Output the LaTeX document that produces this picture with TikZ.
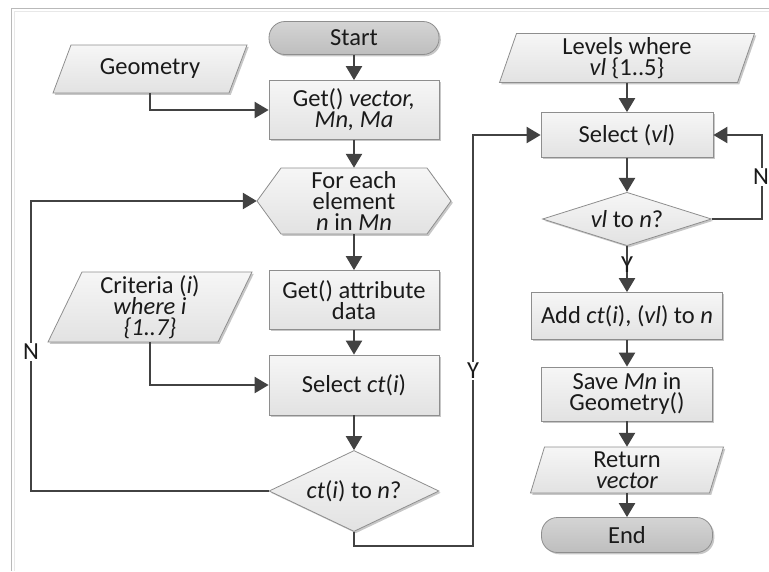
\documentclass[tikz,border=0pt]{standalone}
\usepackage{fontspec}
\setmainfont{Carlito}
\usetikzlibrary{arrows.meta,shapes.geometric,shadows}

\definecolor{linec}{HTML}{424242}
\definecolor{edgec}{HTML}{8E8E8E}
\definecolor{txtc}{HTML}{1A1A1A}
\definecolor{boxtop}{HTML}{F6F6F6}
\definecolor{boxbot}{HTML}{E2E2E2}
\definecolor{termtop}{HTML}{D4D4D4}
\definecolor{termbot}{HTML}{BEBEBE}

\tikzset{
  txt/.style={text=txtc, align=center, inner sep=0pt,
    font=\fontsize{24.5}{21}\selectfont},
  shadowed/.style={drop shadow={shadow xshift=1.8pt, shadow yshift=-1.8pt,
    opacity=0.22, fill=black}},
  procbox/.style={txt, rectangle, draw=edgec, line width=0.8pt,
    top color=boxtop, bottom color=boxbot, shadowed},
  termbox/.style={txt, rectangle, rounded corners=16pt, draw=edgec,
    line width=0.8pt, top color=termtop, bottom color=termbot, shadowed},
  decbox/.style={txt, diamond, aspect=2, draw=edgec, line width=0.8pt,
    top color=boxtop, bottom color=boxbot, shadowed},
  iobox/.style={draw=edgec, line width=0.8pt, top color=boxtop,
    bottom color=boxbot, shadowed},
  flow/.style={draw=linec, line width=2.4pt,
    -{Triangle[length=14pt,width=16pt]}},
  lbl/.style={txt, fill=white, inner sep=1.5pt},
}

% input/output parallelogram: name, cx, cy, width, height, slant, text
\newcommand\ioshape[7]{%
  \path[iobox] (#2-#4/2,#3+#5/2) -- (#2+#4/2-#6,#3+#5/2)
    -- (#2+#4/2,#3-#5/2) -- (#2-#4/2+#6,#3-#5/2) -- cycle;
  \node[txt, minimum width=#4pt, minimum height=#5pt] (#1) at (#2,#3) {#7};}

\begin{document}
\begin{tikzpicture}[x=1pt, y=-1pt]
\useasboundingbox (0,0) rectangle (769,571);

% page frame
\draw[gray!55, line width=1pt] (11,571) -- (11,8) -- (769,8);
\draw[gray!18, line width=1pt] (14,571) -- (14,11) -- (769,11);

% left column
\node[termbox, minimum width=170pt, minimum height=33pt] (start) at (354,38) {Start};
\ioshape{geom}{150}{69}{194}{48}{18}{Geometry}
\node[procbox, minimum width=170pt, minimum height=59pt] (getv) at (354,110)
  {Get() \textit{vector,}\\\textit{Mn, Ma}};

\path[iobox] (257,201) -- (281,168) -- (427,168) -- (451,201)
  -- (427,234) -- (281,234) -- cycle;
\node[txt, minimum width=194pt, minimum height=66pt] (hex) at (354,201)
  {For each\\element\\\textit{n} in \textit{Mn}};

\node[procbox, minimum width=170pt, minimum height=59pt] (attr) at (354,300)
  {Get() attribute\\data};
\ioshape{crit}{150}{307}{204}{70}{34}{Criteria (\textit{i})\\\textit{where i}\\\textit{\{1..7\}}}
\node[procbox, minimum width=170pt, minimum height=60pt] (selct) at (354,385)
  {Select \textit{ct}(\textit{i})};
\node[decbox, minimum width=170pt, minimum height=81pt] (dct) at (354,491)
  {\textit{ct}(\textit{i}) to \textit{n}?};

% right column
\ioshape{lev}{627}{58}{255}{49}{17}{Levels where\\\textit{vl} \{1..5\}}
\node[procbox, minimum width=172pt, minimum height=45pt] (selv) at (627,135)
  {Select (\textit{vl})};
\node[decbox, minimum width=169pt, minimum height=52pt] (dvl) at (627,219)
  {\textit{vl} to \textit{n}?};
\node[procbox, minimum width=191pt, minimum height=47pt] (add) at (627,316)
  {Add \textit{ct}(\textit{i}), (\textit{vl}) to \textit{n}};
\node[procbox, minimum width=171pt, minimum height=54pt] (save) at (627,394)
  {Save \textit{Mn} in\\Geometry()};
\ioshape{ret}{627}{470}{193}{46}{14}{Return\\\textit{vector}}
\node[termbox, minimum width=171pt, minimum height=35pt] (endn) at (627,535) {End};

% bend points of the loops
\coordinate (nl) at (31,491);
\coordinate (yb) at (473,546);
\coordinate (nr) at (762,219);

% connectors
\draw[flow] (start) -- (getv);
\draw[flow] (geom.south) |- (getv.west);
\draw[flow] (getv) -- (hex);
\draw[flow] (hex) -- (attr);
\draw[flow] (attr) -- (selct);
\draw[flow] (crit.south) |- (selct.west);
\draw[flow] (selct) -- (dct);
\draw[flow] (dct.west) -- (nl) |- (hex.west);
\draw[flow] (dct.south) |- (yb) |- (selv.west);

\draw[flow] (lev) -- (selv);
\draw[flow] (selv) -- (dvl);
\draw[flow] (dvl.east) -- (nr) |- (selv.east);
\draw[flow] (dvl) -- (add);
\draw[flow] (add) -- (save);
\draw[flow] (save) -- (ret);
\draw[flow] (ret) -- (endn);

% branch labels
\node[lbl] (nleft) at (31,352) {N};
\node[lbl] (yleft) at (473,371) {Y};
\node[lbl] (nright) at (761,177) {N};
\node[lbl, fill=none] (yright) at (627,265) {Y};
\end{tikzpicture}
\end{document}
